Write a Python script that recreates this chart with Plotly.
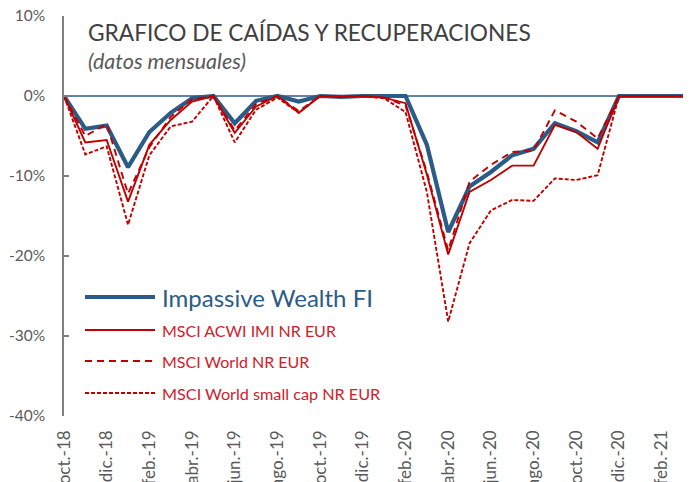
import plotly.graph_objects as go

months = ["oct.-18", "nov.-18", "dic.-18", "ene.-19", "feb.-19", "mar.-19", "abr.-19", "may.-19",
          "jun.-19", "jul.-19", "ago.-19", "sep.-19", "oct.-19", "nov.-19", "dic.-19", "ene.-20",
          "feb.-20", "mar.-20", "abr.-20", "may.-20", "jun.-20", "jul.-20", "ago.-20", "sep.-20",
          "oct.-20", "nov.-20", "dic.-20", "ene.-21", "feb.-21", "mar.-21"]

impassive = [0.0, -4.1, -3.7, -8.9, -4.5, -2.1, -0.3, 0.0, -3.4, -0.6, 0.0, -0.7, 0.0, -0.1, 0.0, 0.0,
             0.0, -6.1, -17.0, -11.3, -9.5, -7.4, -6.6, -3.4, -4.4, -5.8, 0.0, 0.0, 0.0, 0.0]
acwi_imi = [0.0, -5.8, -5.5, -13.2, -6.1, -3.0, -0.7, 0.0, -4.6, -1.3, 0.0, -2.1, 0.0, -0.1, 0.0, -0.2,
            -0.9, -9.8, -19.8, -12.0, -10.5, -8.7, -8.7, -3.6, -4.5, -6.6, 0.0, 0.0, 0.0, 0.0]
world = [0.0, -5.0, -3.5, -12.2, -6.4, -2.6, -0.4, 0.0, -4.3, -1.0, 0.0, -1.9, 0.0, -0.1, 0.0, -0.2,
         -1.2, -9.5, -19.3, -10.7, -8.6, -7.0, -6.8, -1.8, -3.2, -5.3, 0.0, 0.0, 0.0, 0.0]
small_cap = [0.0, -7.3, -6.3, -16.1, -7.4, -3.8, -3.2, 0.0, -5.8, -1.7, -0.2, -2.1, 0.0, -0.1, 0.0, -0.3,
             -2.0, -12.0, -28.2, -18.4, -14.3, -13.0, -13.1, -10.3, -10.5, -9.9, 0.0, 0.0, 0.0, 0.0]

y_ticks = [10, 0, -10, -20, -30, -40]
y_tick_text = ["10%", "0%", "-10%", "-20%", "-30%", "-40%"]

names = ["Impassive Wealth FI", "MSCI ACWI IMI NR EUR", "MSCI World NR EUR", "MSCI World small cap NR EUR"]
series = [impassive, acwi_imi, world, small_cap]

BLUE = "#2B5B87"
RED = "#C00000"
RED_TEXT = "#D0202A"
GRAY = "#595959"
FONT = "Lato"

styles = [
    dict(color=BLUE, width=4.2, dash="solid"),
    dict(color=RED, width=1.9, dash="solid"),
    dict(color=RED, width=1.9, dash="7px,5px"),
    dict(color=RED, width=1.9, dash="4px,2px"),
]

fig = go.Figure()
for name, vals, st in zip(names, series, styles):
    fig.add_trace(go.Scatter(x=months, y=vals, mode="lines", name=name, line=st,
                             showlegend=False, hoverinfo="x+y+name"))

# The page body adds an 8px offset; work in window pixel coordinates.
OFF = 8
WIN_W, WIN_H = 700, 482
W, H = WIN_W - OFF, WIN_H - OFF
PLOT_L, PLOT_R, PLOT_T, PLOT_B = 64, 690, 16, 416   # window pixels
L, T = PLOT_L - OFF, PLOT_T - OFF
R = W - (PLOT_R - OFF)
B = H - (PLOT_B - OFF)
pw, ph = PLOT_R - PLOT_L, PLOT_B - PLOT_T

def px(xp):
    return (xp - PLOT_L) / pw

def py(yp):
    return (PLOT_B - yp) / ph

shapes = []
# zero (horizontal axis) line
shapes.append(dict(type="line", xref="x", yref="y", x0=0, x1=len(months) - 1, y0=0, y1=0,
                   line=dict(color=BLUE, width=1.5), layer="below"))

# manual legend
leg_y = [297, 330, 361, 393]
leg_sizes = [24, 16, 16, 16.2]
leg_colors = [BLUE, RED_TEXT, RED_TEXT, RED_TEXT]
annotations = []
for name, st, yy, fs, fc in zip(names, styles, leg_y, leg_sizes, leg_colors):
    shapes.append(dict(type="line", xref="paper", yref="paper", x0=px(85), x1=px(155),
                       y0=py(yy), y1=py(yy), line=dict(color=st["color"], width=st["width"], dash=st["dash"])))
    annotations.append(dict(xref="paper", yref="paper", x=px(160), y=py(yy), text=name, showarrow=False,
                            xanchor="left", yanchor="middle", font=dict(family=FONT, size=fs, color=fc)))

# title and subtitle
annotations.append(dict(xref="paper", yref="paper", x=px(86), y=py(33), text="GRAFICO DE CAÍDAS Y RECUPERACIONES",
                        showarrow=False, xanchor="left", yanchor="middle",
                        font=dict(family=FONT, size=22.7, color="#404040")))
annotations.append(dict(xref="paper", yref="paper", x=px(86), y=py(61), text="<i>(datos mensuales)</i>",
                        showarrow=False, xanchor="left", yanchor="middle",
                        font=dict(family=FONT, size=21.5, color=GRAY)))

fig.update_layout(
    width=W, height=H,
    margin=dict(l=L, r=R, t=T, b=B, pad=0),
    paper_bgcolor="white", plot_bgcolor="white",
    shapes=shapes, annotations=annotations,
    font=dict(family=FONT, color=GRAY),
    xaxis=dict(type="category", range=[0, (pw / (683 - PLOT_L)) * (len(months) - 1)],
               tickmode="array", tickvals=months[::2], ticktext=months[::2],
               tickangle=-90, tickfont=dict(family=FONT, size=17, color=GRAY),
               showgrid=False, zeroline=False, showline=False, ticks="",
               automargin=False, ticklabelstandoff=10, ticklabeloverflow="allow"),
    yaxis=dict(range=[-40, 10], tickmode="array", tickvals=y_ticks, ticktext=y_tick_text,
               tickfont=dict(family=FONT, size=15.5, color=GRAY),
               showgrid=False, zeroline=False, showline=True, linecolor="#7F7F7F", linewidth=1.5,
               ticks="inside", ticklen=5, tickcolor="#7F7F7F", tickwidth=1.5,
               automargin=False, ticklabelstandoff=14, ticklabeloverflow="allow"),
)

fig.write_html("out.html")
